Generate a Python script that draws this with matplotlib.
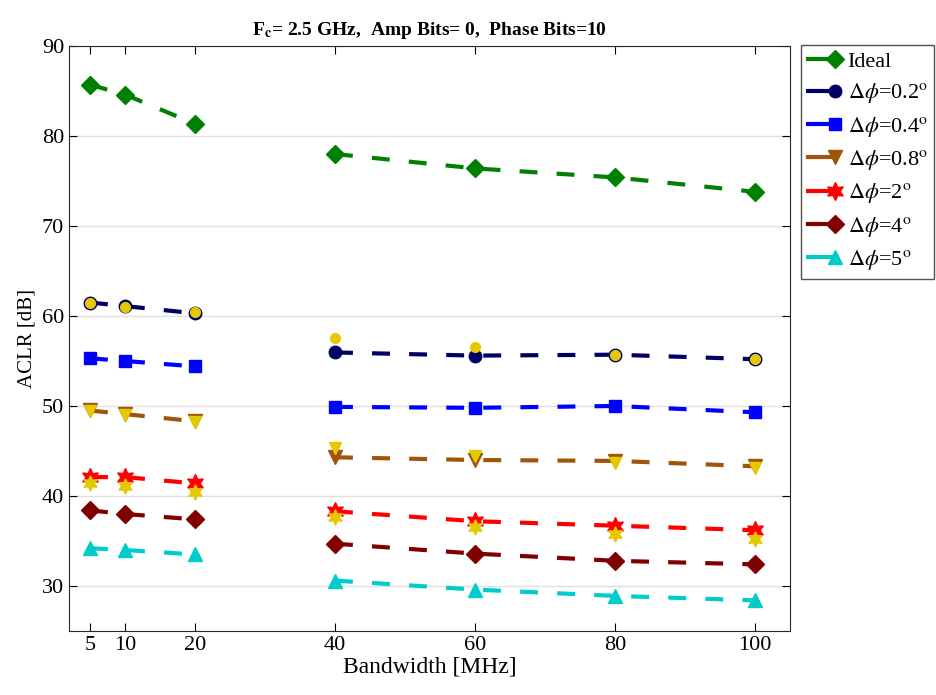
import matplotlib
matplotlib.use("Agg")
import matplotlib.pyplot as plt
from matplotlib.legend_handler import HandlerLine2D

plt.rcParams['font.family'] = ['Liberation Serif', 'DejaVu Serif']
plt.rcParams['mathtext.fontset'] = 'stix'

# данные
bw = [5, 10, 20, 40, 60, 80, 100]
ideal = [85.7, 84.6, 81.35, 78.0, 76.4, 75.4, 73.8]
d02 = [61.5, 61.1, 60.3, 55.95, 55.6, 55.7, 55.2]
d04 = [55.3, 55.0, 54.4, 49.9, 49.8, 50.0, 49.3]
d08 = [49.5, 49.1, 48.3, 44.3, 44.0, 43.9, 43.3]
d2 = [42.1, 42.1, 41.4, 38.3, 37.2, 36.7, 36.2]
d4 = [38.4, 38.0, 37.4, 34.7, 33.6, 32.8, 32.4]
d5 = [34.2, 34.0, 33.5, 30.6, 29.6, 28.9, 28.4]

# жёлтые маркеры (вторая серия, без легенды)
g02 = [61.45, 61.0, 60.45, 57.5, 56.5, 55.7, 55.2]
g08 = [49.4, 49.0, 48.2, 45.3, 44.4, 43.7, 43.1]
g2 = [41.4, 41.1, 40.4, 37.7, 36.6, 35.8, 35.2]

labels = ['Ideal', r'$\Delta\phi$=0.2$^\mathrm{o}$', r'$\Delta\phi$=0.4$^\mathrm{o}$',
          r'$\Delta\phi$=0.8$^\mathrm{o}$', r'$\Delta\phi$=2$^\mathrm{o}$',
          r'$\Delta\phi$=4$^\mathrm{o}$', r'$\Delta\phi$=5$^\mathrm{o}$']
series = [ideal, d02, d04, d08, d2, d4, d5]
colors = ['#008000', '#000066', '#0000FF', '#A0560A', '#FF0000', '#800000', '#00CCCC']
hexagram = (6, 1, 0)
markers = ['D', 'o', 's', 'v', hexagram, 'D', '^']
msizes = [9, 9, 8, 10, 13, 9, 10]

gold = '#E6C800'


class EndMarker(HandlerLine2D):
    # маркер в конце линии, как в MATLAB
    def create_artists(self, *args, **kw):
        arts = super().create_artists(*args, **kw)
        arts[0].set_markevery([2])
        arts[0].set_linestyle('-')
        return arts


fig = plt.figure(figsize=(9.36, 6.95), dpi=100)
ax = fig.add_axes([0.0737, 0.0921, 0.7703, 0.8417])

handles = []
for y, c, m, ms, lab in zip(series, colors, markers, msizes, labels):
    # две части: 5-20 и 40-100
    h, = ax.plot(bw[:3], y[:3], '--', color=c, marker=m, markersize=ms, lw=3,
                 dashes=(4.3, 4.6), label=lab)
    ax.plot(bw[3:], y[3:], '--', color=c, marker=m, markersize=ms, lw=3,
            dashes=(4.3, 4.6))
    handles.append(h)

ax.plot(bw, g02, 'o', color=gold, markersize=7, ls='none')
ax.plot(bw, g08, 'v', color=gold, markersize=8, ls='none')
ax.plot(bw, g2, marker=hexagram, color=gold, markersize=11, ls='none')

ax.set_xlim(2, 105)
ax.set_ylim(25, 90)
ax.set_xticks(bw)
ax.set_yticks([30, 40, 50, 60, 70, 80, 90])
ax.tick_params(direction='in', top=True, right=True, labelsize=16, length=6)
ax.grid(axis='y', color='#e0e0e0', lw=1)
ax.set_axisbelow(True)
for s in ax.spines.values():
    s.set_color('#262626')

ax.set_xlabel('Bandwidth [MHz]', fontsize=17, labelpad=1)
ax.set_ylabel('ACLR [dB]', fontsize=15, labelpad=4)
ax.set_title(r'F$_\mathbf{c}$= 2.5 GHz,  Amp Bits= 0,  Phase Bits=10',
             fontsize=14, fontweight='bold', pad=8)

leg = ax.legend(handles=handles, loc='upper left', bbox_to_anchor=(1.0153, 1.002),
                fontsize=16, frameon=True, fancybox=False, edgecolor='#262626',
                handlelength=1.25, borderpad=0.3, labelspacing=0.42,
                handletextpad=0.55, borderaxespad=0, numpoints=1,
                handler_map={plt.Line2D: EndMarker()})
leg.get_frame().set_linewidth(1)

plt.savefig('out.png', dpi=100)
